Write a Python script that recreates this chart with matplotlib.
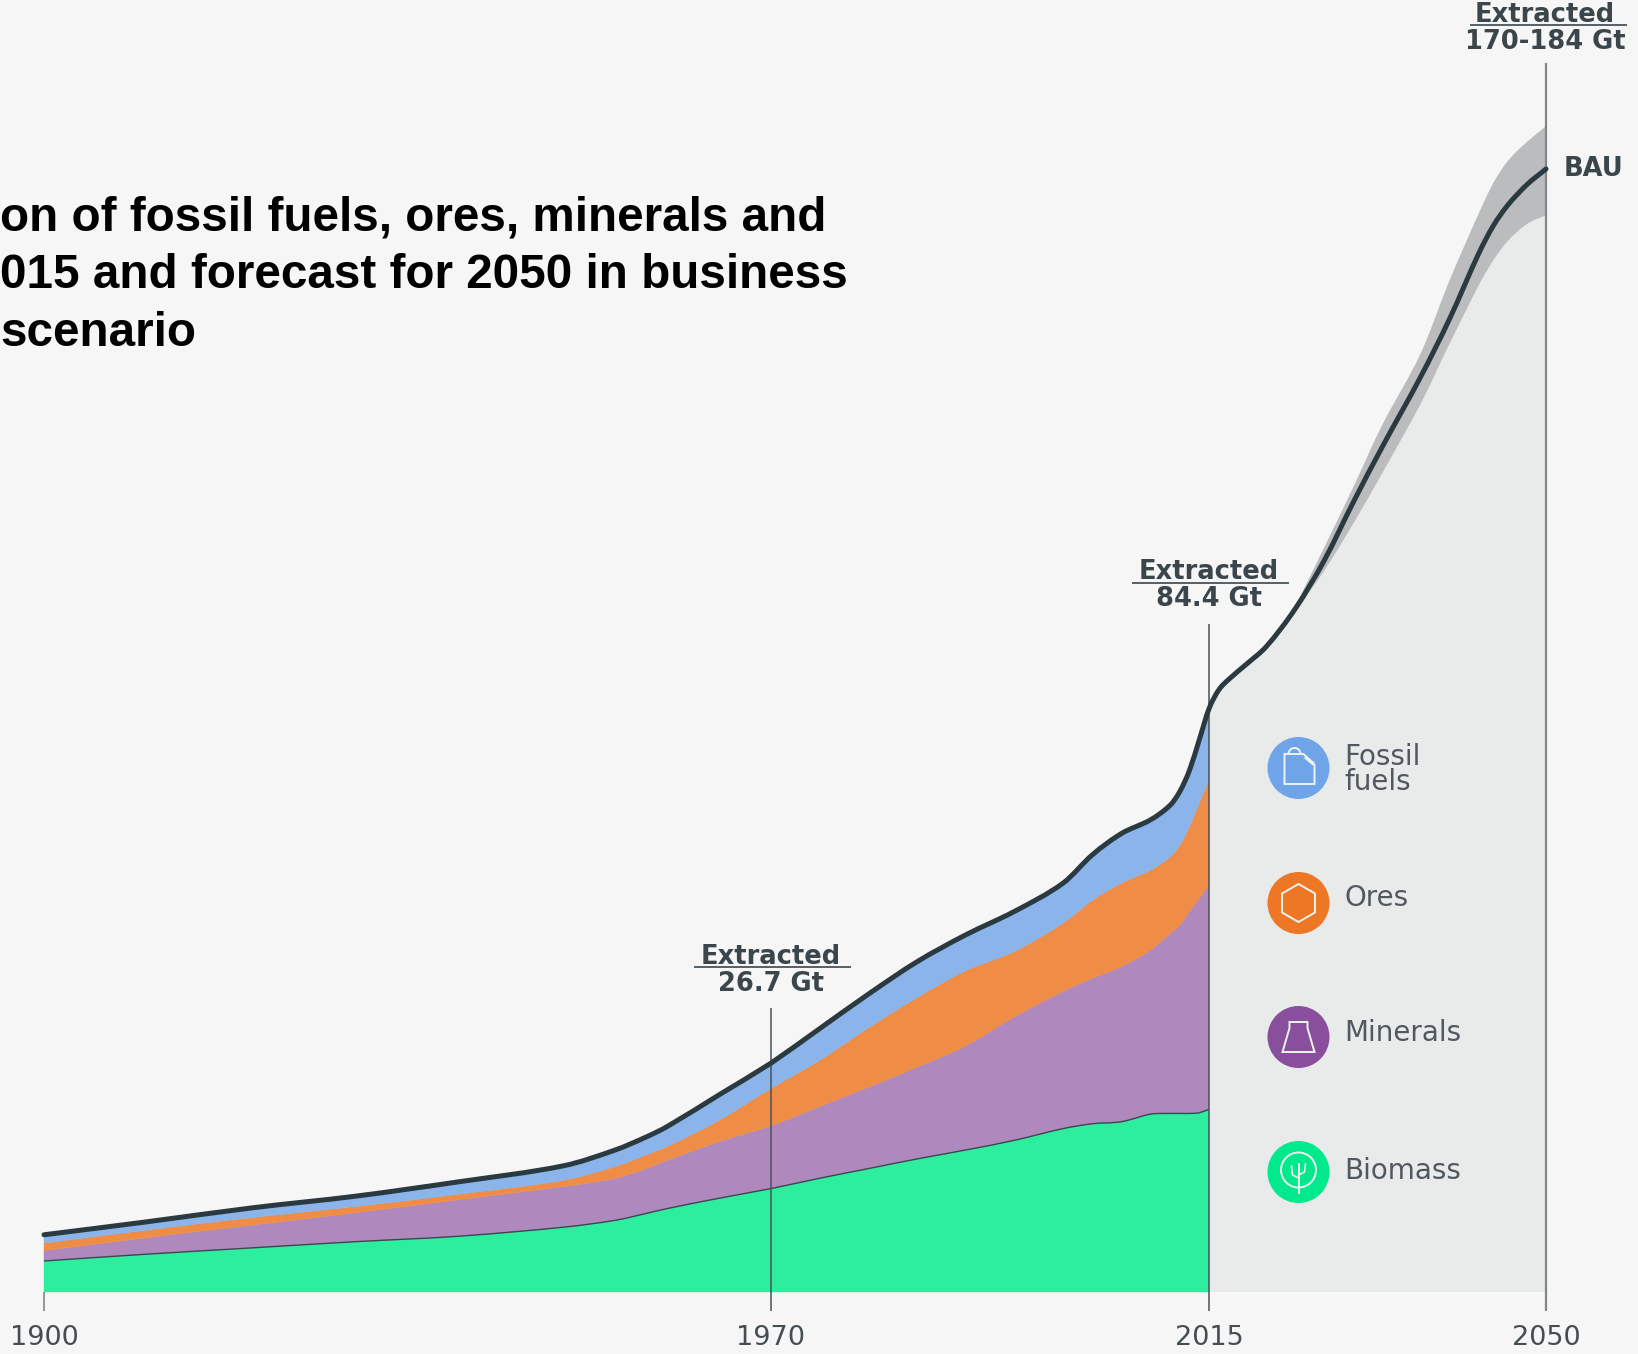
import numpy as np
import matplotlib
matplotlib.use("Agg")
import matplotlib.pyplot as plt
from matplotlib.patches import Circle, Polygon, Arc, PathPatch
from matplotlib.path import Path

# ---------- data (chart height units) ----------
years = [1900, 1910, 1920, 1930, 1940, 1950, 1955, 1958, 1960, 1965, 1970, 1975, 1980,
         1985, 1990, 1995, 2000, 2003, 2006, 2009, 2011, 2012, 2013, 2014, 2015]
biomass = [4.5, 5.5, 6.4, 7.3, 8.1, 9.4, 10.4, 11.4, 12.1, 13.6, 15.0, 16.5, 17.9,
           19.3, 20.6, 22.0, 23.7, 24.4, 24.7, 25.8, 25.9, 25.9, 25.9, 26.0, 26.5]
minerals = [1.5, 2.4, 3.3, 4.2, 5.3, 5.9, 6.1, 6.5, 7.0, 8.2, 9.1, 10.4, 11.8,
            13.3, 15.1, 17.9, 19.9, 21.1, 22.5, 23.8, 26.1, 27.3, 29.3, 31.1, 32.5]
ores = [1.1, 1.1, 1.1, 0.9, 0.8, 0.9, 1.7, 2.0, 2.0, 3.1, 5.4, 6.7, 8.6,
        10.1, 10.9, 9.5, 9.9, 11.3, 12.1, 11.6, 11.1, 11.6, 12.3, 13.8, 15.3]
fossil = [1.2, 1.2, 1.4, 1.5, 1.8, 2.1, 2.4, 2.6, 2.9, 3.7, 3.7, 4.6, 4.9,
          5.2, 5.2, 5.8, 5.8, 6.6, 7.2, 7.3, 7.5, 7.8, 8.2, 9.2, 10.3]

fc_years = [2015, 2016, 2017, 2019, 2021, 2024, 2027, 2030, 2033, 2037, 2040, 2043, 2044.5, 2046, 2048, 2050]
fc_mid = [84.6, 87.3, 88.8, 91.2, 93.7, 99.2, 106.2, 114.6, 122.6, 132.8, 141.2, 150.6, 154.6, 157.6, 160.6, 162.9]
band_years = [2024, 2027, 2030, 2033, 2037, 2040, 2043, 2044.5, 2046, 2048, 2050]
band_high = [99.6, 108.1, 116.8, 125.8, 136.2, 146.8, 156.4, 160.8, 164.0, 166.8, 169.1]
band_low = [98.8, 104.7, 111.5, 118.8, 128.9, 137.6, 146.0, 149.6, 152.4, 154.9, 156.2]

tick_years = [1900, 1970, 2015, 2050]
tick_labels = ["1900", "1970", "2015", "2050"]
legend_names = ["Fossil\nfuels", "Ores", "Minerals", "Biomass"]
title_lines = ["on of fossil fuels, ores, minerals and",
               "015 and forecast for 2050 in business",
               "scenario"]

# ---------- style ----------
BG = "#F5F6F5"
FORE = "#E9EAEA"
BAND = "#BBBCBE"
LINE = "#2A3A40"
GUIDE = "#7F8789"
TXT = "#3A454C"
COL = {"biomass": "#2CEE9E", "minerals": "#AF89BD", "ores": "#EF8C45", "fossil": "#8AB4EA"}
DOT = ["#6FA5E8", "#EE7725", "#8A4F9C", "#00E98C"]
W, H = 1638, 1354
PX_PER_UNIT = 6.894
BASE_PX, AX_BOTTOM_PX = 1292, 1311


def bezier(x, y):
    """Smooth Bezier vertices running through the read points."""
    x, y = np.asarray(x, float), np.asarray(y, float)
    m = np.zeros_like(y)
    m[1:-1] = (y[2:] - y[:-2]) / (x[2:] - x[:-2])
    m[0] = (y[1] - y[0]) / (x[1] - x[0])
    m[-1] = (y[-1] - y[-2]) / (x[-1] - x[-2])
    v = [(x[0], y[0])]
    for i in range(len(x) - 1):
        h = x[i + 1] - x[i]
        v.append((x[i] + h / 3, y[i] + m[i] * h / 3))
        v.append((x[i + 1] - h / 3, y[i + 1] - m[i + 1] * h / 3))
        v.append((x[i + 1], y[i + 1]))
    return np.array(v)


def curve_path(x, y):
    v = bezier(x, y)
    return Path(v, [Path.MOVETO] + [Path.CURVE4] * (len(v) - 1))


def area_path(x, low, high):
    top, bot = bezier(x, high), bezier(x, low)[::-1]
    v = np.vstack([top, bot, top[:1]])
    c = ([Path.MOVETO] + [Path.CURVE4] * (len(top) - 1) + [Path.LINETO] +
         [Path.CURVE4] * (len(bot) - 1) + [Path.CLOSEPOLY])
    return Path(v, c)


fig = plt.figure(figsize=(W / 100, H / 100), dpi=100, facecolor=BG)
ax = fig.add_axes([0, (H - AX_BOTTOM_PX) / H, 1, AX_BOTTOM_PX / H], facecolor=BG)

anchor_y = [1890.0, 1900, 1970, 2015, 2050, 2070.0]
anchor_p = [44 - 10 * 10.386, 44, 771, 1209, 1546, 1546 + 20 * 9.63]
ax.set_xscale("function", functions=(lambda v: np.interp(v, anchor_y, anchor_p),
                                     lambda p: np.interp(p, anchor_p, anchor_y)))
ax.set_xlim(np.interp(0, anchor_p, anchor_y), np.interp(W, anchor_p, anchor_y))
ax.set_ylim(-(AX_BOTTOM_PX - BASE_PX) / PX_PER_UNIT, BASE_PX / PX_PER_UNIT)
for s in ax.spines.values():
    s.set_visible(False)
ax.set_yticks([])
ax.set_xticks(tick_years, tick_labels, fontsize=19.5, color="#454D52", family="DejaVu Sans")
ax.tick_params(axis="x", length=0, pad=10)


def add(path, **kw):
    p = PathPatch(path, transform=ax.transData, **kw)
    ax.add_patch(p)
    return p


# forecast
add(area_path(fc_years, np.zeros(len(fc_years)), fc_mid), fc=FORE, ec="none", lw=0, zorder=1)
add(area_path(band_years, band_low, band_high), fc=BAND, ec="none", lw=0, zorder=2)

# stacked history
stack = np.cumsum([biomass, minerals, ores, fossil], axis=0)
lower = np.zeros(len(years))
for top, key in zip(stack, ["biomass", "minerals", "ores", "fossil"]):
    add(area_path(years, lower, top), fc=COL[key], ec=COL[key], lw=0.3, zorder=3)
    lower = top
add(curve_path(years, stack[0]), fc="none", ec="#3A4650", lw=1.0, zorder=3.5)

# guide lines
ymin = ax.get_ylim()[0]
ax.vlines(1900, ymin, 0, color=GUIDE, lw=1.2, zorder=4)
ax.vlines(1970, ymin, (BASE_PX - 1008) / PX_PER_UNIT, color="#4A5456", lw=1.4, alpha=0.8, zorder=4)
ax.vlines(2015, ymin, (BASE_PX - 624) / PX_PER_UNIT, color="#4A5456", lw=1.4, alpha=0.8, zorder=4)
ax.vlines(2050, ymin, (BASE_PX - 63) / PX_PER_UNIT, color=GUIDE, lw=1.6, zorder=4)

# total line through history and forecast
all_x = list(years) + list(fc_years[1:])
all_y = list(stack[3][:-1]) + list(fc_mid)
add(curve_path(all_x, all_y), fc="none", ec=LINE, lw=3.6, capstyle="round", joinstyle="round", zorder=5)

# overlay in pixel coordinates for annotations
ov = fig.add_axes([0, 0, 1, 1], facecolor="none")
ov.set_xlim(0, W)
ov.set_ylim(H, 0)
ov.axis("off")

# title
for txt, y in zip(title_lines, [218, 276, 334]):
    ov.text(0, y, txt, family="Liberation Sans", weight="bold", fontsize=34.3, color="black",
            ha="left", va="center")

# annotations
ann = [(771, 957, 984, 967, 695, 850, "26.7 Gt"),
       (1209, 572, 599, 583, 1133, 1288, "84.4 Gt"),
       (1545, 15, 42, 25, 1471, 1626, "170-184 Gt")]
for cx, y1, y2, yu, x0, x1, val in ann:
    ov.text(cx, y1, "Extracted", family="DejaVu Sans", weight="bold", fontsize=18.5, color=TXT,
            ha="center", va="center")
    ov.text(cx, y2, val, family="DejaVu Sans", weight="bold", fontsize=18.5, color=TXT,
            ha="center", va="center")
    ov.plot([x0, x1], [yu, yu], color="#555F66", lw=1.4)
ov.text(1564, 169, "BAU", family="DejaVu Sans", weight="bold", fontsize=18.5, color=TXT, va="center")

# legend
cx = 1298.5
cys = [768, 903, 1037, 1172]
text_ys = [769.5, 898, 1033, 1171]
R = 31
for cy, ty, name, c in zip(cys, text_ys, legend_names, DOT):
    ov.add_patch(Circle((cx, cy), R, color=c, lw=0, zorder=3))
    ov.text(1344, ty, name, family="DejaVu Sans", fontsize=20, color="#50595F",
            ha="left", va="center", linespacing=0.9, zorder=3)
ic = dict(fill=False, ec="#EEF3F0", lw=1.4, zorder=4)
WHITE = "#EEF3F0"
# fossil icon
cy = cys[0]
ov.add_patch(Polygon([(cx - 14, cy - 14), (cx + 5, cy - 14), (cx + 16, cy - 3), (cx + 16, cy + 16), (cx - 14, cy + 16)],
                     closed=True, **ic))
ov.add_patch(Arc((cx - 4, cy - 14), 12, 12, theta1=180, theta2=360, ec=WHITE, lw=1.4, zorder=4))
ov.plot([cx + 8, cx + 14], [cy - 10, cy - 5], color=WHITE, lw=2.5, zorder=4)
# hexagon
cy = cys[1]
ang = np.deg2rad(np.arange(30, 390, 60))
ov.add_patch(Polygon(np.c_[cx + 19 * np.cos(ang), cy + 19 * np.sin(ang)], closed=True, **ic))
# flask
cy = cys[2]
ov.add_patch(Polygon([(cx - 9, cy - 15), (cx + 9, cy - 15), (cx + 9, cy - 9), (cx + 16, cy + 15), (cx - 16, cy + 15), (cx - 9, cy - 9)],
                     closed=True, **ic))
# tree
cy = cys[3]
ov.add_patch(Circle((cx, cy - 2), 17.5, **ic))
ov.plot([cx, cx], [cy - 8, cy + 21], color=WHITE, lw=1.4, zorder=4)
ov.plot([cx - 7, cx - 6, cx], [cy - 6, cy + 3, cy + 6], color=WHITE, lw=1.2, zorder=4)
ov.plot([cx + 7, cx + 6, cx], [cy - 8, cy, cy + 3], color=WHITE, lw=1.2, zorder=4)

fig.savefig("out.png", dpi=100, facecolor=BG)
